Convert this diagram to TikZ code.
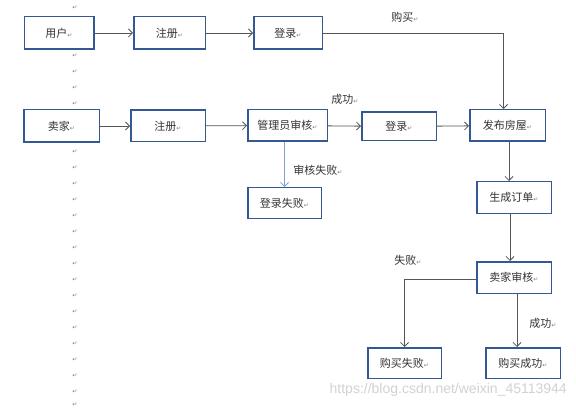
\documentclass[tikz,border=0pt]{standalone}
\usepackage{fontspec}
\setmainfont{Noto Sans CJK SC}
\newfontfamily\symfont{DejaVu Sans}
\newfontfamily\wmfont{Liberation Sans}
\usetikzlibrary{arrows.meta}

\definecolor{boxblue}{RGB}{52,88,145}
\definecolor{linegray}{RGB}{85,85,85}
\definecolor{failblue}{RGB}{125,160,212}
\newcommand{\ret}{{\symfont\fontsize{6}{6}\selectfont\textcolor{gray}{↵}}}

\begin{document}
\begin{tikzpicture}
  [x=1pt,y=-1pt,
   every node/.style={font=\fontsize{11}{13}\selectfont,text=black!80},
   box/.style={draw=boxblue,line width=1.5pt,minimum height=31.5pt,inner sep=2pt},
   conn/.style={draw=linegray,line width=0.8pt,-{Straight Barb[length=4pt,width=8pt]}},
   bconn/.style={draw=failblue,line width=0.8pt,-{Straight Barb[length=4pt,width=8pt]}},
   retmark/.style={font=\symfont\fontsize{6}{6}\selectfont,text=gray,inner sep=0pt}]
  \useasboundingbox[fill=white] (0,0) rectangle (576,409);

  % paragraph marks down the left
  \foreach \y in {8,56,72,88,104,152,168,...,392}
    \node[retmark] (m\y) at (75,\y) {↵};
  \node[retmark] (mlast) at (75,404.5) {↵};

  % user row
  \node[box,minimum width=69.5pt,minimum height=32.5pt] (user) at (59,33) {用户\ret};
  \node[box,minimum width=71.5pt,minimum height=32.5pt] (reg1) at (169.5,33) {注册\ret};
  \node[box,minimum width=68.5pt,minimum height=32.5pt] (login1) at (288,33) {登录\ret};

  % seller row
  \node[box,minimum width=75.5pt,minimum height=32.5pt] (seller) at (61.5,126) {卖家\ret};
  \node[box,minimum width=74.5pt] (reg2) at (168,126) {注册\ret};
  \node[box,minimum width=79.5pt] (audit) at (287.5,125.5) {管理员审核\ret};
  \node[box,minimum width=74.5pt,minimum height=28.5pt] (login2) at (399,126.5) {登录\ret};
  \node[box,minimum width=75.5pt] (publish) at (507.5,125.5) {发布房屋\ret};

  \node[box,minimum width=73.5pt,minimum height=30.5pt] (fail1) at (284.5,203) {登录失败\ret};
  \node[box,minimum width=74.5pt] (order) at (514,197.5) {生成订单\ret};
  \node[box,minimum width=74.5pt] (sellaudit) at (514,277.5) {卖家审核\ret};
  \node[box,minimum width=73.5pt,minimum height=30.5pt] (buyfail) at (404.5,363) {购买失败\ret};
  \node[box,minimum width=74.5pt,minimum height=30.5pt] (buyok) at (523,363) {购买成功\ret};

  % labels
  \node (lbuy) at (405,17) {购买\ret};
  \node (lok1) at (345,99) {成功\ret};
  \node (lfail1) at (318,170) {审核失败\ret};
  \node (lfail2) at (408,260) {失败\ret};
  \node (lok2) at (543,323) {成功\ret};

  % connectors
  \draw[conn] (user) -- (reg1);
  \draw[conn] (reg1) -- (login1);
  \draw[conn] (login1.east) -| ([xshift=-4pt]publish.north);
  \draw[conn] (seller) -- (reg2);
  \draw[conn] (reg2) -- (audit);
  \draw[conn] (audit) -- (login2);
  \draw[conn] (login2) -- (publish);
  \draw[bconn] (fail1.north |- audit.south) -- (fail1.north);
  \draw[conn] ([xshift=1.5pt]publish.south) -- ([xshift=1.5pt]publish.south |- order.north);
  \draw[conn] ([xshift=-4pt]order.south) -- ([xshift=-4pt]order.south |- sellaudit.north);
  \draw[conn] ([yshift=-2pt]sellaudit.west) -| (buyfail.north);
  \draw[conn] ([xshift=3pt]sellaudit.south) -- ([xshift=3pt]sellaudit.south |- buyok.north);

  % watermark
  \node[font=\wmfont\fontsize{14}{16}\selectfont,text=gray!35,anchor=east,inner sep=0pt] (wm) at (567,390) {https://blog.csdn.net/weixin\_45113944};
\end{tikzpicture}
\end{document}
